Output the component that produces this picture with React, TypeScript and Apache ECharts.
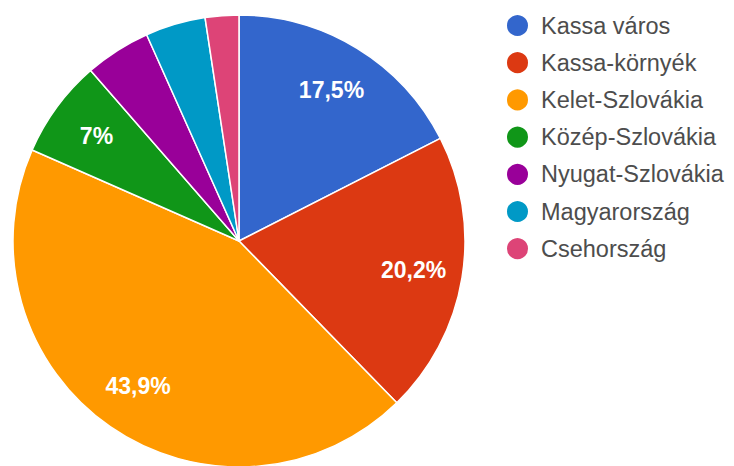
import React, { useEffect, useRef } from "react";
import * as echarts from "echarts";

const categories = [
  "Kassa város",
  "Kassa-környék",
  "Kelet-Szlovákia",
  "Közép-Szlovákia",
  "Nyugat-Szlovákia",
  "Magyarország",
  "Csehország",
];
const values = [17.5, 20.2, 43.9, 7, 4.7, 4.3, 2.4];
const colors = ["#3366cc", "#dc3912", "#ff9900", "#109618", "#990099", "#0099c6", "#dd4477"];

export default function App() {
  const ref = useRef<HTMLDivElement>(null);
  useEffect(() => {
    document.body.style.margin = "0";
    if (!ref.current) return;
    const chart = echarts.init(ref.current, undefined, { renderer: "svg" });
    const data = categories.map((name, i) => ({
      name,
      value: values[i],
      itemStyle: { color: colors[i] },
    }));
    const labelData = categories.map((name, i) => ({ name, value: values[i] }));
    chart.setOption({
      animation: false,
      textStyle: { fontFamily: "Liberation Sans, Arial, sans-serif" },
      legend: {
        orient: "vertical",
        left: 505,
        top: 13,
        padding: 0,
        icon: "circle",
        itemWidth: 23,
        itemHeight: 23,
        itemGap: 12.2,
        selectedMode: false,
        data: categories.map((name, i) => ({ name, itemStyle: { color: colors[i] } })),
        textStyle: {
          fontSize: 23.5,
          color: "#4d4d4d",
          padding: [0, 0, 0, 7],
          fontFamily: "Liberation Sans, Arial, sans-serif",
        },
      },
      series: [
        {
          type: "pie",
          center: [239, 241],
          radius: [0, 226],
          startAngle: 90,
          clockwise: true,
          silent: true,
          label: { show: false },
          labelLine: { show: false },
          itemStyle: { borderColor: "#ffffff", borderWidth: 1.5 },
          emphasis: { disabled: true },
          data,
        },
        {
          type: "pie",
          center: [239, 241],
          radius: [122, 226],
          startAngle: 90,
          clockwise: true,
          silent: true,
          legendHoverLink: false,
          itemStyle: { color: "transparent", borderWidth: 0 },
          emphasis: { disabled: true },
          labelLine: { show: false },
          label: {
            show: true,
            position: "inside",
            color: "#ffffff",
            fontSize: 23,
            fontWeight: "bold",
            fontFamily: "Liberation Sans, Arial, sans-serif",
            formatter: (p: any) =>
              p.value >= 5 ? String(p.value).replace(".", ",") + "%" : "",
          },
          data: labelData,
        },
      ],
    });
    return () => chart.dispose();
  }, []);
  return <div ref={ref} style={{ width: 734, height: 466 }} />;
}
